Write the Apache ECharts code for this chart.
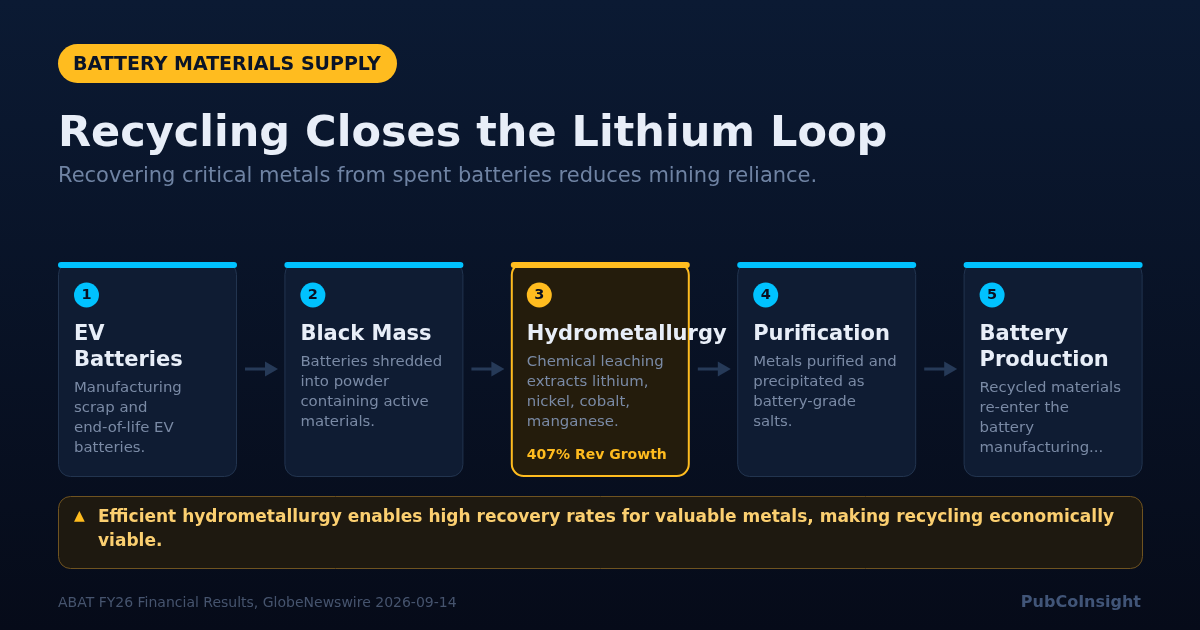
<!DOCTYPE html>
<html>
<head>
<meta charset="utf-8">
<script src="https://cdn.jsdelivr.net/npm/echarts@6/dist/echarts.min.js"></script>
<style>
    html, body { margin: 0; padding: 0; background: #050a18; }
    #main { width: 1200px; height: 630px; }
</style>
</head>
<body>
<div id="main"></div>
<script>
    var stepNumbers = ['1', '2', '3', '4', '5'];
    var stepTitles = [
        ['EV', 'Batteries'],
        ['Black Mass'],
        ['Hydrometallurgy'],
        ['Purification'],
        ['Battery', 'Production']
    ];
    var stepTexts = [
        ['Manufacturing', 'scrap and', 'end-of-life EV', 'batteries.'],
        ['Batteries shredded', 'into powder', 'containing active', 'materials.'],
        ['Chemical leaching', 'extracts lithium,', 'nickel, cobalt,', 'manganese.'],
        ['Metals purified and', 'precipitated as', 'battery-grade', 'salts.'],
        ['Recycled materials', 're-enter the', 'battery', 'manufacturing...']
    ];
    var stepTags = ['', '', '407% Rev Growth', '', ''];
    var highlightStep = 2;

    var badgeText = 'BATTERY MATERIALS SUPPLY';
    var titleText = 'Recycling Closes the Lithium Loop';
    var subtitleText = 'Recovering critical metals from spent batteries reduces mining reliance.';
    var calloutLines = [
        'Efficient hydrometallurgy enables high recovery rates for valuable metals, making recycling economically',
        'viable.'
    ];
    var sourceText = 'ABAT FY26 Financial Results, GlobeNewswire 2026-09-14';
    var brandText = 'PubCoInsight';

    var FONT = '"DejaVu Sans", sans-serif';
    var CYAN = '#00c2ff', AMBER = '#ffbc1f';
    var CARD_W = 179;

    function textEl(str, x, y, size, weight, color, align) {
        return {
            type: 'text',
            z: 5,
            style: {
                text: str, x: x, y: y,
                font: weight + ' ' + size + 'px ' + FONT,
                fill: color,
                textAlign: align || 'left',
                textVerticalAlign: 'middle'
            }
        };
    }

    function renderStep(params, api) {
        var i = api.value(0);
        var center = api.coord([i, 1]);
        var bottom = api.coord([i, 0]);
        var x = center[0] - CARD_W / 2, top = center[1], h = bottom[1] - top;
        var hot = i === highlightStep;
        var accent = hot ? AMBER : CYAN;
        var inset = hot ? 1 : 0.5;
        var kids = [];

        kids.push({
            type: 'rect',
            shape: { x: x + inset, y: top + inset, width: CARD_W - inset * 2, height: h - inset * 2, r: 12 },
            style: {
                fill: hot ? '#241c0c' : '#0f1c33',
                stroke: hot ? AMBER : '#22344f',
                lineWidth: hot ? 2 : 1
            }
        });
        kids.push({
            type: 'rect',
            shape: { x: x, y: top, width: CARD_W, height: 6, r: 3 },
            style: { fill: accent }
        });
        kids.push({
            type: 'circle',
            shape: { cx: x + 28.5, cy: top + 33, r: 12.5 },
            style: { fill: accent }
        });
        kids.push(textEl(stepNumbers[i], x + 28.5, top + 33.5, 14.5, 'bold', '#0a1020', 'center'));

        var lines = stepTitles[i], y = top + 73;
        lines.forEach(function (line, k) {
            kids.push(textEl(line, x + 16, y + k * 26, 21, 'bold', '#e8eef8'));
        });
        var descY = y + (lines.length - 1) * 26 + 27;
        stepTexts[i].forEach(function (line, k) {
            kids.push(textEl(line, x + 16, descY + k * 20, 14.9, 'normal', '#7a8aa5'));
        });
        if (stepTags[i]) {
            kids.push(textEl(stepTags[i], x + 16, top + 193, 14, 'bold', AMBER));
        }

        // arrow to the next card
        if (i < stepNumbers.length - 1) {
            var ax = x + CARD_W + 8, ay = top + 107;
            kids.push({
                type: 'rect',
                shape: { x: ax, y: ay - 1.5, width: 21, height: 3 },
                style: { fill: '#263a58' }
            });
            kids.push({
                type: 'polygon',
                shape: { points: [[ax + 20, ay - 7.5], [ax + 33, ay], [ax + 20, ay + 7.5]] },
                style: { fill: '#263a58' }
            });
        }
        return { type: 'group', children: kids };
    }

    var myChart = echarts.init(document.getElementById('main'), null, { renderer: 'canvas' });

    var option = {
        animation: false,
        backgroundColor: {
            type: 'linear', x: 0, y: 0, x2: 0, y2: 1,
            colorStops: [
                { offset: 0, color: '#0b1a33' },
                { offset: 1, color: '#060b19' }
            ]
        },
        grid: { left: 34.3, width: 1132, top: 262, height: 215 },
        xAxis: { type: 'category', data: stepNumbers, show: false },
        yAxis: { type: 'value', min: 0, max: 1, show: false },
        series: [{
            type: 'custom',
            clip: false,
            renderItem: renderStep,
            data: stepNumbers.map(function (n, i) { return [i, 1]; }),
            encode: { x: 0, y: 1 }
        }],
        graphic: [
            { type: 'rect', shape: { x: 58, y: 44, width: 339, height: 39, r: 19.5 }, style: { fill: AMBER } },
            { type: 'text', style: { text: badgeText, x: 73, y: 65, font: 'bold 19px ' + FONT, fill: '#0a1428', textVerticalAlign: 'middle' } },
            { type: 'text', style: { text: titleText, x: 58, y: 134.5, font: 'bold 43px ' + FONT, fill: '#e8eef8', textVerticalAlign: 'middle' } },
            { type: 'text', style: { text: subtitleText, x: 58, y: 177, font: 'normal 21px ' + FONT, fill: '#6f83a3', textVerticalAlign: 'middle' } },

            { type: 'rect', shape: { x: 58.5, y: 496.5, width: 1084, height: 72, r: 12 }, style: { fill: '#1e1910', stroke: '#6f5320', lineWidth: 1 } },
            { type: 'text', style: { text: '\u25B2', x: 74, y: 516, font: 'normal 14px ' + FONT, fill: AMBER, textVerticalAlign: 'middle' } },
            { type: 'text', style: { text: calloutLines[0], x: 98, y: 518, font: 'bold 17px ' + FONT, fill: '#fbcf70', textVerticalAlign: 'middle' } },
            { type: 'text', style: { text: calloutLines[1], x: 98, y: 542, font: 'bold 17px ' + FONT, fill: '#fbcf70', textVerticalAlign: 'middle' } },

            { type: 'text', style: { text: sourceText, x: 58, y: 603, font: 'normal 14px ' + FONT, fill: '#46546e', textVerticalAlign: 'middle' } },
            { type: 'text', style: { text: brandText, x: 1141, y: 603, font: 'bold 16px ' + FONT, fill: '#415578', textAlign: 'right', textVerticalAlign: 'middle' } }
        ]
    };

    myChart.setOption(option);
</script>
</body>
</html>
